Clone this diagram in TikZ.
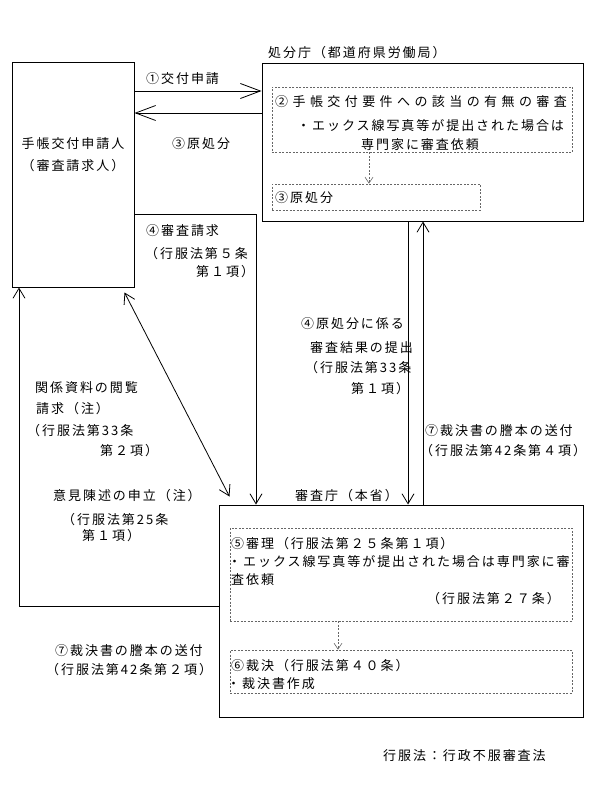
\documentclass[tikz,border=0pt]{standalone}
\usepackage{fontspec}
\newfontfamily\jp{Noto Sans CJK JP}[LetterSpace=15]
\newfontfamily\jpw{Noto Sans CJK JP}[LetterSpace=34]
\usetikzlibrary{arrows.meta}
\begin{document}
\begin{tikzpicture}[x=1pt,y=-1pt,
  box/.style={draw, line width=1pt, inner sep=0pt},
  dbox/.style={draw=black!60, dash pattern=on 2pt off 1.5pt, line width=0.6pt, inner sep=0pt},
  txt/.style={anchor=base west, inner sep=0pt, font=\jp\fontsize{13}{15}\selectfont},
  txtw/.style={anchor=base west, inner sep=0pt, font=\jpw\fontsize{13}{15}\selectfont},
  ctxt/.style={anchor=base, inner sep=0pt, font=\jp\fontsize{13}{15}\selectfont},
  link/.style={line width=0.8pt},
  ar/.style={link, -{Straight Barb[length=10pt,width=12pt]}},
  dbl/.style={link, {Straight Barb[length=10pt,width=12pt]}-{Straight Barb[length=10pt,width=12pt]}},
  bigar/.style={link, -{Straight Barb[length=20pt,width=15pt]}},
  dar/.style={draw=black!60, dash pattern=on 2pt off 1.5pt, line width=0.6pt, -{Straight Barb[length=6pt,width=8pt]}}
]
\fill[white] (0,0) rectangle (598,800);
\useasboundingbox (0,0) rectangle (598,800);

% boxes
\node[box, minimum width=121.5pt, minimum height=224pt] (app) at (73.25,175) {};
\node[box, minimum width=321pt, minimum height=157pt] (proc) at (422.5,142.5) {};
\node[dbox, minimum width=300.7pt, minimum height=65pt] (d2) at (422.3,119.5) {};
\node[dbox, minimum width=208pt, minimum height=26pt] (d3) at (376,197) {};
\node[box, minimum width=364pt, minimum height=212pt] (rev) at (401,611) {};
\node[dbox, minimum width=342pt, minimum height=93pt] (d5) at (401,574.5) {};
\node[dbox, minimum width=342pt, minimum height=43pt] (d6) at (401,671.5) {};

% helper coordinates
\coordinate (k1) at (0,91);
\coordinate (k3) at (0,113);
\coordinate (k4) at (256,214);
\coordinate (kd) at (369,0);
\coordinate (kdd) at (338,0);
\coordinate (kx1) at (408,0);
\coordinate (kx2) at (423,0);
\coordinate (k7) at (19,606);

% connectors
\draw[bigar] (app.east |- k1) -- (proc.west |- k1);
\draw[bigar] (proc.west |- k3) -- (app.east |- k3);
\draw[ar] (app.east |- k4) -| (rev.north -| k4);
\draw[ar] (proc.south -| kx1) -- (rev.north -| kx1);
\draw[ar] (rev.north -| kx2) -- (proc.south -| kx2);
\draw[dbl] ([shift={(-10,5)}]app.south east) -- ([shift={(11,-8)}]rev.north west);
\draw[ar] (rev.west |- k7) -| (app.south -| k7);
\draw[dar] (d2.south -| kd) -- (d3.north -| kd);
\draw[dar] (d5.south -| kdd) -- (d6.north -| kdd);

% texts
\node[txt] (t1) at (146,83) {①交付申請};
\node[txt] (t2) at (172,148) {③原処分};
\node[ctxt] (t3) at (73,148) {手帳交付申請人};
\node[ctxt] (t4) at (73,170) {（審査請求人）};
\node[txt] (t5) at (268,58) {処分庁（都道府県労働局）};
\node[txtw] (t6) at (275,106) {②手帳交付要件への該当の有無の審査};
\node[txt] (t7) at (297,130) {・エックス線写真等が提出された場合は};
\node[txt] (t8) at (361,149) {専門家に審査依頼};
\node[txt] (t9) at (275,202) {③原処分};
\node[txt] (t10) at (146,235) {④審査請求};
\node[txt] (t11) at (145,258) {（行服法第５条};
\node[txt] (t12) at (196,276) {第１項）};
\node[txt] (t13) at (35,392) {関係資料の閲覧};
\node[txt] (t14) at (36,413) {請求（注）};
\node[txt] (t15) at (27,435) {（行服法第33条};
\node[txt] (t16) at (100,455) {第２項）};
\node[txt] (t17) at (53,500) {意見陳述の申立（注）};
\node[txt] (t18) at (62,524) {（行服法第25条};
\node[txt] (t19) at (82,540) {第１項）};
\node[txt] (t20) at (55,655) {⑦裁決書の謄本の送付};
\node[txt] (t21) at (46,674) {（行服法第42条第２項）};
\node[txt] (t22) at (301,328) {④原処分に係る};
\node[txt] (t23) at (310,352) {審査結果の提出};
\node[txt] (t24) at (305,372) {（行服法第33条};
\node[txt] (t25) at (351,393) {第１項）};
\node[txt] (t26) at (425,435) {⑦裁決書の謄本の送付};
\node[txt] (t27) at (420,455) {（行服法第42条第４項）};
\node[txt] (t28) at (295,500) {審査庁（本省）};
\node[txt] (t29) at (231,548) {⑤審理（行服法第２５条第１項）};
\node[txt] (t30) at (228,566) {・エックス線写真等が提出された場合は専門家に審};
\node[txt] (t31) at (231,584) {査依頼};
\node[txt] (t32) at (427,603) {（行服法第２７条）};
\node[txt] (t33) at (231,670) {⑥裁決（行服法第４０条）};
\node[txt] (t34) at (227,688) {・裁決書作成};
\node[txt] (t35) at (383,760) {行服法：行政不服審査法};
\end{tikzpicture}
\end{document}
